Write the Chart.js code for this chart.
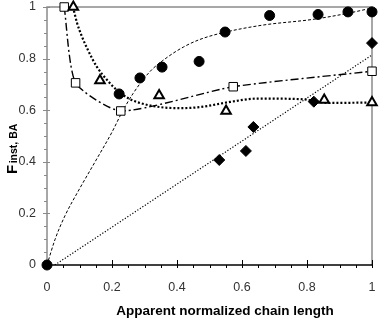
<!DOCTYPE html>
<html>
<head>
<meta charset="utf-8">
<script src="https://cdn.jsdelivr.net/npm/chart.js@4.4.0/dist/chart.umd.min.js"></script>
<style>
  html, body { margin: 0; padding: 0; background: #fff; }
</style>
</head>
<body>
<canvas id="myChart" width="380" height="321"></canvas>
<script>
// measured points
const circleX = [0, 0.222, 0.286, 0.354, 0.468, 0.548, 0.685, 0.834, 0.926, 1.0];
const circleY = [0, 0.663, 0.725, 0.767, 0.789, 0.903, 0.967, 0.971, 0.981, 0.981];

const squareX = [0.053, 0.088, 0.227, 0.573, 1.0];
const squareY = [1.0, 0.706, 0.597, 0.691, 0.751];

const triangleX = [0.081, 0.163, 0.345, 0.551, 0.853, 1.0];
const triangleY = [1.0, 0.715, 0.657, 0.597, 0.64, 0.63];

const diamondX = [0.53, 0.612, 0.635, 0.821, 1.0];
const diamondY = [0.407, 0.442, 0.535, 0.633, 0.86];

// trend lines
const circleFitX = [0, 0.025, 0.055, 0.1, 0.148, 0.2, 0.23, 0.265, 0.317, 0.37, 0.42, 0.47, 0.54, 0.665, 0.818, 0.923, 1.0];
const circleFitY = [0, 0.1, 0.19, 0.295, 0.4, 0.515, 0.59, 0.665, 0.75, 0.805, 0.845, 0.874, 0.9, 0.93, 0.952, 0.975, 0.996];

const triangleFitX = [0.08, 0.092, 0.108, 0.126, 0.154, 0.185, 0.215, 0.249, 0.286, 0.348, 0.41, 0.47, 0.563, 0.646, 0.78, 0.87, 1.0];
const triangleFitY = [1.0, 0.94, 0.884, 0.833, 0.767, 0.717, 0.678, 0.647, 0.628, 0.612, 0.608, 0.612, 0.632, 0.645, 0.643, 0.628, 0.63];

const diamondFitX = [0.024, 1.0];
const diamondFitY = [0, 0.814];

const tickValues = [0, 0.2, 0.4, 0.6, 0.8, 1];
const tickLabels = ["0", "0.2", "0.4", "0.6", "0.8", "1"];

const xTitle = "Apparent normalized chain length";
const yTitleMain = "F";
const yTitleSub = "inst, BA";

function pts(xs, ys) {
    return xs.map(function (x, i) { return { x: x, y: ys[i] }; });
}

const tickFont = { family: '"Liberation Sans", Arial, sans-serif', size: 12.5 };

// axis frame + crossing / minor ticks
const framePlugin = {
    id: 'frame',
    beforeDatasetsDraw(chart) {
        const ctx = chart.ctx;
        const a = chart.chartArea;
        const xs = chart.scales.x;
        const ys = chart.scales.y;
        ctx.save();
        ctx.lineWidth = 1.5;
        ctx.strokeStyle = '#8a8a8a';
        ctx.beginPath();
        ctx.moveTo(a.left, a.bottom);
        ctx.lineTo(a.left, a.top);
        ctx.lineTo(a.right, a.top);
        ctx.lineTo(a.right, a.bottom);
        ctx.stroke();

        // y ticks
        ctx.lineWidth = 1;
        for (let i = 0; i <= 20; i++) {
            const py = Math.round(ys.getPixelForValue(i * 0.05)) + 0.5;
            ctx.beginPath();
            if (i % 4 === 0) {
                ctx.moveTo(a.left - 4, py);
                ctx.lineTo(a.left + 3, py);
            } else {
                ctx.moveTo(a.left - 3, py);
                ctx.lineTo(a.left, py);
            }
            ctx.stroke();
        }

        // bottom axis, black
        ctx.strokeStyle = '#000';
        ctx.lineWidth = 1.5;
        ctx.beginPath();
        ctx.moveTo(a.left, a.bottom);
        ctx.lineTo(a.right, a.bottom);
        ctx.stroke();
        ctx.lineWidth = 1;
        for (let i = 0; i <= 20; i++) {
            const px = Math.round(xs.getPixelForValue(i * 0.05)) + 0.5;
            ctx.beginPath();
            if (i % 4 === 0) {
                ctx.moveTo(px, a.bottom - 5);
                ctx.lineTo(px, a.bottom + 3);
            } else {
                ctx.moveTo(px, a.bottom);
                ctx.lineTo(px, a.bottom + 3);
            }
            ctx.stroke();
        }
        ctx.restore();
    },
    afterDraw(chart) {
        const ctx = chart.ctx;
        ctx.save();
        ctx.fillStyle = '#000';
        ctx.font = 'bold 13.5px "Liberation Sans", Arial, sans-serif';
        ctx.textAlign = 'center';
        ctx.textBaseline = 'alphabetic';
        ctx.fillText(xTitle, 225, 315);

        ctx.translate(17, 174);
        ctx.rotate(-Math.PI / 2);
        ctx.textAlign = 'left';
        ctx.font = 'bold 15px "Liberation Sans", Arial, sans-serif';
        ctx.fillText(yTitleMain, 0, 0);
        const w = ctx.measureText(yTitleMain).width;
        ctx.font = 'bold 10.5px "Liberation Sans", Arial, sans-serif';
        ctx.fillText(yTitleSub, w + 1.5, 0);
        ctx.restore();
    }
};

function tickText(value) {
    const i = tickValues.indexOf(Math.round(value * 10) / 10);
    return i >= 0 ? tickLabels[i] : '';
}

const data = {
    datasets: [
        {
            label: 'circles',
            data: pts(circleX, circleY),
            showLine: false,
            pointStyle: 'circle',
            pointRadius: 5,
            pointBackgroundColor: '#000',
            pointBorderColor: '#000',
            pointBorderWidth: 1,
            clip: false
        },
        {
            label: 'diamonds',
            data: pts(diamondX, diamondY),
            showLine: false,
            pointStyle: 'rectRot',
            pointRadius: 5.5,
            pointBackgroundColor: '#000',
            pointBorderColor: '#000',
            pointBorderWidth: 1,
            clip: false
        },
        {
            label: 'triangles',
            data: pts(triangleX, triangleY),
            showLine: false,
            pointStyle: 'triangle',
            pointRadius: 5.5,
            pointBackgroundColor: '#fff',
            pointBorderColor: '#000',
            pointBorderWidth: 2,
            clip: false
        },
        {
            label: 'squares',
            data: pts(squareX, squareY),
            showLine: true,
            tension: 0.2,
            borderColor: '#000',
            borderWidth: 1.4,
            borderDash: [8, 3, 2, 3],
            pointStyle: 'rect',
            pointRadius: 6,
            pointBackgroundColor: '#fff',
            pointBorderColor: '#000',
            pointBorderWidth: 1,
            clip: false
        },
        {
            label: 'circle fit',
            data: pts(circleFitX, circleFitY),
            showLine: true,
            cubicInterpolationMode: 'monotone',
            borderColor: '#000',
            borderWidth: 1,
            borderDash: [3, 2],
            pointRadius: 0
        },
        {
            label: 'triangle fit',
            data: pts(triangleFitX, triangleFitY),
            showLine: true,
            cubicInterpolationMode: 'monotone',
            borderColor: '#000',
            borderWidth: 2.2,
            borderDash: [2, 2],
            pointRadius: 0
        },
        {
            label: 'diamond fit',
            data: pts(diamondFitX, diamondFitY),
            showLine: true,
            borderColor: '#000',
            borderWidth: 1.2,
            borderDash: [1.2, 1.8],
            pointRadius: 0
        }
    ]
};

const config = {
    type: 'scatter',
    data: data,
    options: {
        responsive: false,
        animation: false,
        devicePixelRatio: 1,
        layout: { autoPadding: false, padding: { top: 7, right: 8, left: 0, bottom: 0 } },
        plugins: {
            legend: { display: false },
            tooltip: { enabled: false }
        },
        scales: {
            x: {
                type: 'linear',
                min: 0,
                max: 1,
                afterBuildTicks: function (scale) {
                    scale.ticks = tickValues.map(function (v) { return { value: v }; });
                },
                afterFit: function (scale) {
                    scale.height = 56;
                    scale.paddingLeft = 0;
                    scale.paddingRight = 0;
                },
                ticks: { font: tickFont, color: '#333', padding: 15, maxRotation: 0, callback: tickText },
                grid: { display: false, drawTicks: false },
                border: { display: false }
            },
            y: {
                type: 'linear',
                min: 0,
                max: 1,
                afterBuildTicks: function (scale) {
                    scale.ticks = tickValues.map(function (v) { return { value: v }; });
                },
                afterFit: function (scale) {
                    scale.width = 47;
                    scale.paddingTop = 0;
                    scale.paddingBottom = 0;
                },
                ticks: { font: tickFont, color: '#333', padding: 11, callback: tickText },
                grid: { display: false, drawTicks: false },
                border: { display: false }
            }
        }
    },
    plugins: [framePlugin]
};

const myChart = new Chart(document.getElementById('myChart'), config);
</script>
</body>
</html>
